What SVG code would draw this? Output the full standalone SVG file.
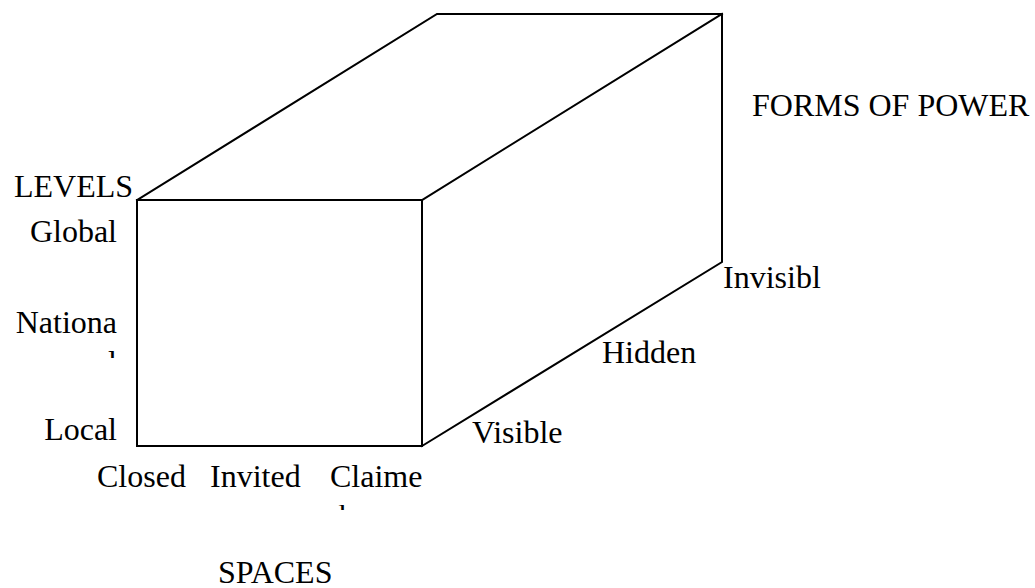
<svg xmlns="http://www.w3.org/2000/svg" width="1035" height="588" viewBox="0 0 1035 588">
  <style>
    .edge { stroke: #000; stroke-width: 2; fill: none; stroke-linecap: square; }
    .lbl { font-family: "Liberation Serif", "Times New Roman", serif; font-size: 32px; fill: #000; }
    .r { text-anchor: end; }
  </style>
  <defs>
    <clipPath id="clipL"><rect x="100" y="351" width="30" height="7"/></clipPath>
    <clipPath id="clipD"><rect x="320" y="505" width="40" height="5"/></clipPath>
  </defs>
  <rect width="1035" height="588" fill="#fff"/>
  <g id="connectors">
    <g id="box">
      <rect class="edge" x="137" y="200" width="285" height="246"/>
      <path class="edge" d="M137,200 L437,14 L722,14 L722,262 L422,446 M422,200 L722,14"/>
    </g>
  </g>
  <g id="levels">
    <text class="lbl" x="14" y="197">LEVELS</text>
    <text class="lbl r" x="117" y="242">Global</text>
    <text class="lbl r" x="117" y="333">Nationa</text>
    <text class="lbl r" x="117" y="373" clip-path="url(#clipL)">l</text>
    <text class="lbl r" x="117" y="440">Local</text>
  </g>
  <g id="spaces">
    <text class="lbl" x="97" y="487">Closed</text>
    <text class="lbl" x="210" y="487">Invited</text>
    <text class="lbl" x="330" y="487">Claime</text>
    <text class="lbl" x="330" y="527" clip-path="url(#clipD)">d</text>
    <text class="lbl" x="218" y="583">SPACES</text>
  </g>
  <g id="forms">
    <text class="lbl" x="752" y="116">FORMS OF POWER</text>
    <text class="lbl" x="723" y="288">Invisibl</text>
    <text class="lbl" x="602" y="363">Hidden</text>
    <text class="lbl" x="472" y="443">Visible</text>
  </g>
</svg>
